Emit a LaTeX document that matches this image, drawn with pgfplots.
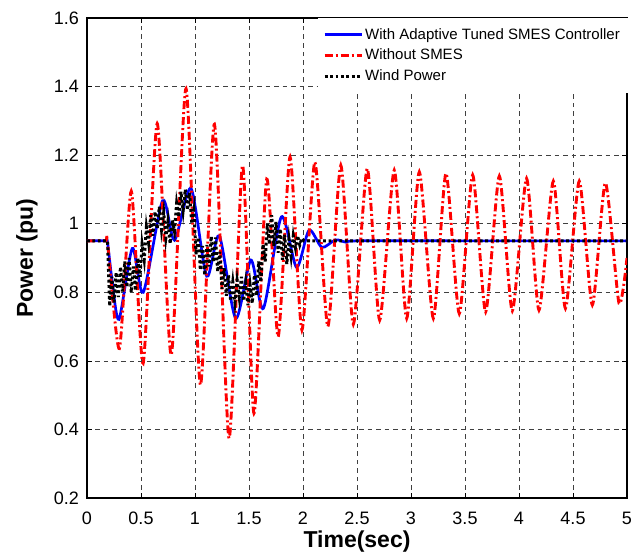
\documentclass[border=0pt]{standalone}
\usepackage{fontspec}
\setmainfont{Liberation Sans}
\usepackage{pgfplots}
\pgfplotsset{compat=1.18}
\begin{document}
\begin{tikzpicture}
\begin{axis}[
  scale only axis, width=540pt, height=480pt,
  xmin=0, xmax=5, ymin=0.2, ymax=1.6,
  xtick={0,0.5,1,1.5,2,2.5,3,3.5,4,4.5,5},
  ytick={0.2,0.4,0.6,0.8,1,1.2,1.4,1.6},
  grid=major,
  major grid style={black!75, line width=0.7pt, dash pattern=on 4.5pt off 4pt},
  tick align=inside, major tick length=5pt,
  tick style={black, line width=0.7pt},
  axis line style={black, line width=1.3pt},
  /pgf/number format/assume math mode=true,
  tick label style={font=\fontsize{18}{18}\selectfont},
  xticklabel style={anchor=north, inner sep=0pt, yshift=-14pt},
  yticklabel style={anchor=east, inner sep=0pt, xshift=-8pt},
  xlabel={Time(sec)},
  ylabel={Power (pu)},
  xlabel style={font=\fontsize{23}{23}\selectfont\bfseries, at={(axis description cs:0.5,-0.06875)}, anchor=north, inner sep=0pt},
  ylabel style={font=\fontsize{23}{23}\selectfont\bfseries, at={(axis description cs:-0.1111,0.5)}, anchor=center, inner sep=0pt},
  legend style={at={(1,1)}, anchor=north east, draw=white, fill=white,
    font=\fontsize{15}{15}\selectfont, inner xsep=5pt, inner ysep=8pt, row sep=4.5pt, cells={anchor=west}},
  legend image code/.code={\draw[#1] (0pt,0pt) -- (37pt,0pt);},
]
\addplot[blue, line width=2.7pt, smooth, tension=0.45] coordinates {
(0,0.95) (0.17,0.95) (0.19,0.945) (0.23,0.84) (0.296,0.721) (0.42,0.928) (0.521,0.80)
(0.70,1.067) (0.81,0.952) (0.963,1.103) (1.108,0.847) (1.225,0.965) (1.377,0.724)
(1.518,0.894) (1.633,0.753) (1.80,1.02) (1.94,0.873) (2.056,0.981) (2.175,0.931)
(2.30,0.953) (2.40,0.946) (2.5,0.95) (3.5,0.95) (5,0.95)};
\addlegendentry{With Adaptive Tuned SMES Controller}
\addplot[red, line width=2.9pt, smooth, tension=0.4, dash pattern=on 8pt off 3pt on 2pt off 3pt] coordinates {
(0,0.95) (0.17,0.95) (0.19,0.945) (0.30,0.636) (0.41,1.095) (0.52,0.593) (0.65,1.292)
(0.78,0.617) (0.917,1.394) (1.05,0.53) (1.18,1.29) (1.315,0.374) (1.44,1.17)
(1.546,0.447) (1.664,1.13) (1.77,0.67) (1.88,1.195) (1.99,0.69) (2.11,1.18)
(2.23,0.70) (2.35,1.17) (2.466,0.707) (2.595,1.161) (2.71,0.719) (2.845,1.156)
(2.96,0.724) (3.077,1.151) (3.207,0.724) (3.324,1.147) (3.447,0.738) (3.571,1.142)
(3.691,0.743) (3.818,1.139) (3.938,0.746) (4.07,1.132) (4.185,0.748) (4.318,1.124)
(4.43,0.753) (4.558,1.124) (4.679,0.763) (4.80,1.119) (4.926,0.768) (5.0,0.90)};
\addlegendentry{Without SMES}
\addplot[black, line width=3pt, dash pattern=on 2.8pt off 2.6pt] coordinates {
(0,0.95) (0.19,0.95) (0.21,0.76) (0.23,0.845) (0.25,0.77) (0.27,0.858) (0.29,0.786)
(0.31,0.874) (0.33,0.802) (0.35,0.89) (0.37,0.815) (0.39,0.90) (0.41,0.80) (0.43,0.875)
(0.45,0.805) (0.47,0.90) (0.49,0.845) (0.51,0.94) (0.53,0.895) (0.55,0.99) (0.57,0.945)
(0.59,1.025) (0.61,0.965) (0.63,1.035) (0.65,0.985) (0.67,1.05) (0.69,0.983) (0.71,1.033)
(0.73,0.958) (0.75,1.008) (0.77,0.942) (0.79,1.01) (0.81,0.978) (0.83,1.06) (0.85,1.02)
(0.87,1.093) (0.89,1.038) (0.91,1.10) (0.93,1.04) (0.95,1.09) (0.97,1.00) (0.99,1.04)
(1.01,0.91) (1.03,0.96) (1.05,0.865) (1.07,0.935) (1.09,0.85) (1.11,0.938) (1.13,0.875)
(1.15,0.963) (1.17,0.888) (1.19,0.96) (1.21,0.86) (1.23,0.918) (1.25,0.81) (1.27,0.87)
(1.29,0.79) (1.31,0.85) (1.33,0.775) (1.35,0.83) (1.37,0.77) (1.39,0.835) (1.41,0.785)
(1.43,0.845) (1.45,0.775) (1.47,0.828) (1.49,0.762) (1.51,0.822) (1.53,0.768) (1.55,0.85)
(1.57,0.79) (1.59,0.89) (1.61,0.83) (1.63,0.94) (1.65,0.89) (1.67,1.0) (1.69,0.94)
(1.71,1.025) (1.73,0.935) (1.75,1.005) (1.77,0.915) (1.79,0.985) (1.81,0.895) (1.83,0.968)
(1.85,0.882) (1.87,0.955) (1.89,0.905) (1.91,0.965) (1.93,0.93) (1.95,0.965) (1.97,0.938)
(1.99,0.958) (2.01,0.95) (5,0.95)};
\addlegendentry{Wind Power}
\end{axis}
\pgfresetboundingbox
\path[use as bounding box] (-87pt,-60pt) rectangle (552pt,498pt);
\end{tikzpicture}
\end{document}
